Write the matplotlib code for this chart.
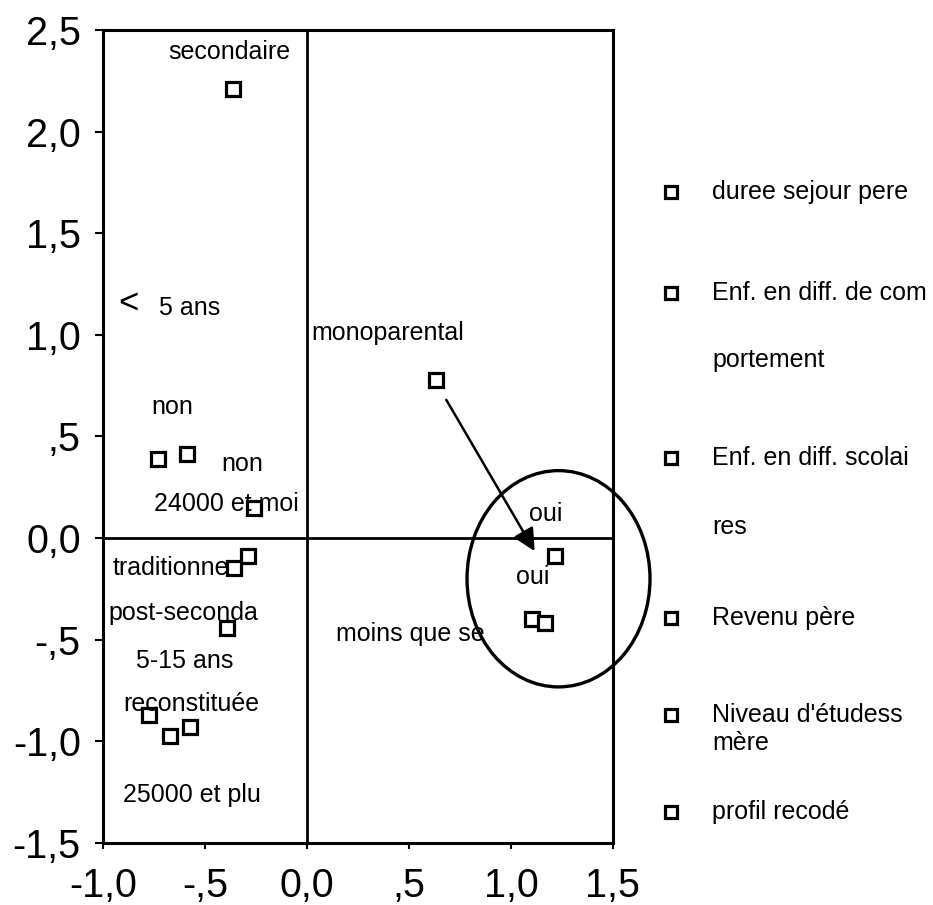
import matplotlib.pyplot as plt
from matplotlib.patches import Ellipse

plt.rcParams['font.family'] = ['Liberation Sans', 'DejaVu Sans']

# coordinates of the category points (dimension 1, dimension 2)
dim1 = [-0.363, -0.73, -0.588, -0.26, -0.289, -0.358, -0.392,
        -0.775, -0.672, -0.574, 0.632, 1.216, 1.103, 1.167]
dim2 = [2.21, 0.387, 0.416, 0.15, -0.09, -0.145, -0.44,
        -0.87, -0.973, -0.93, 0.78, -0.09, -0.40, -0.416]

# category labels and where they were printed
labels = ["secondaire", "5 ans", "non", "non", "24000 et moi", "traditionne",
          "post-seconda", "5-15 ans", "reconstituée", "25000 et plu",
          "monoparental", "oui", "oui", "moins que se"]
label_x = [-0.382, -0.574, -0.662, -0.319, -0.397, -0.667,
           -0.608, -0.598, -0.569, -0.564, 0.397, 1.172, 1.108, 0.505]
label_y = [2.39, 1.13, 0.643, 0.367, 0.17, -0.145,
           -0.367, -0.603, -0.815, -1.264, 1.007, 0.121, -0.19, -0.47]

legend_labels = ["duree sejour pere", "Enf. en diff. de com", "Enf. en diff. scolai",
                 "Revenu père", "Niveau d'étudess", "profil recodé"]
legend_more = ["", "portement", "res", "", "mère", ""]

xticks = [-1.0, -0.5, 0.0, 0.5, 1.0, 1.5]
xtick_labels = ["-1,0", "-,5", "0,0", ",5", "1,0", "1,5"]
yticks = [-1.5, -1.0, -0.5, 0.0, 0.5, 1.0, 1.5, 2.0, 2.5]
ytick_labels = ["-1,5", "-1,0", "-,5", "0,0", ",5", "1,0", "1,5", "2,0", "2,5"]

fig = plt.figure(figsize=(9.33, 9.05), dpi=100)
ax = fig.add_axes([0.1104, 0.0685, 0.5466, 0.8984])

ax.axhline(0, color='black', lw=2)
ax.axvline(0, color='black', lw=2)

ax.plot(dim1, dim2, ls='none', marker='s', ms=9.5, mfc='white',
        mec='black', mew=2.3, zorder=3)

for t, x, y in zip(labels, label_x, label_y):
    ax.text(x, y, t, ha='center', va='center', fontsize=18)
ax.text(-0.877, 1.155, "<", ha='center', va='center', fontsize=25)

ax.annotate("", xy=(1.123, -0.076), xytext=(0.676, 0.692),
            arrowprops=dict(arrowstyle='-|>', color='black', lw=1.8,
                            mutation_scale=34))
ax.add_patch(Ellipse((1.233, -0.2), 0.897, 1.064, fill=False,
                     ec='black', lw=2.4, clip_on=False, zorder=4))

ax.set_xlim(-1.0, 1.5)
ax.set_ylim(-1.5, 2.5)
ax.set_xticks(xticks, xtick_labels)
ax.set_yticks(yticks, ytick_labels)
ax.tick_params(axis='both', labelsize=28.5, width=1.5, color='black')
ax.tick_params(axis='y', length=6, pad=10)
ax.tick_params(axis='x', length=4, pad=13)
for s in ax.spines.values():
    s.set_linewidth(2.2)

# hand made legend on the right
leg = fig.add_axes([0, 0, 1, 1])
leg.set_xlim(0, 933)
leg.set_ylim(905, 0)
leg.axis('off')
rows = [192, 293, 458, 618, 715, 812]
gaps = [0, 67, 69, 0, 28, 0]
leg.plot([671] * len(rows), rows, ls='none', marker='s', ms=8.5,
         mfc='white', mec='black', mew=2.3)
for r, g, t, t2 in zip(rows, gaps, legend_labels, legend_more):
    leg.text(712, r, t, va='center', fontsize=18)
    if t2:
        leg.text(712, r + g, t2, va='center', fontsize=18)

fig.savefig("out.png", dpi=100)
